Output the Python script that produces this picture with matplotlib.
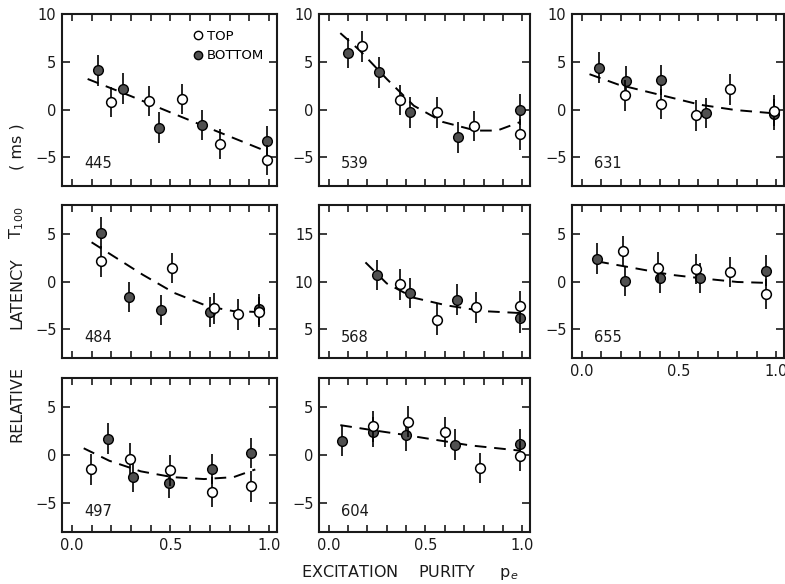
import matplotlib
matplotlib.use('Agg')
import matplotlib.pyplot as plt
from matplotlib.lines import Line2D

# wavelength panels (nm), in reading order
wavelengths = [445, 539, 631, 484, 568, 655, 497, 604]

top_x = {
    445: [0.20, 0.39, 0.56, 0.75, 0.99],
    539: [0.17, 0.37, 0.56, 0.75, 0.99],
    631: [0.22, 0.41, 0.59, 0.76, 0.99],
    484: [0.15, 0.51, 0.72, 0.84, 0.95],
    568: [0.37, 0.56, 0.76, 0.99],
    655: [0.21, 0.39, 0.59, 0.76, 0.95],
    497: [0.095, 0.295, 0.50, 0.71, 0.91],
    604: [0.23, 0.41, 0.60, 0.78, 0.99],
}
top_y = {
    445: [0.8, 0.9, 1.1, -3.6, -5.3],
    539: [6.6, 1.0, -0.3, -1.7, -2.6],
    631: [1.5, 0.6, -0.6, 2.1, -0.1],
    484: [2.1, 1.4, -2.8, -3.45, -3.2],
    568: [9.7, 6.0, 7.3, 7.4],
    655: [3.2, 1.45, 1.3, 1.0, -1.3],
    497: [-1.5, -0.4, -1.6, -3.85, -3.25],
    604: [3.0, 3.45, 2.4, -1.35, -0.1],
}
bottom_x = {
    445: [0.13, 0.26, 0.44, 0.66, 0.99],
    539: [0.10, 0.26, 0.42, 0.67, 0.99],
    631: [0.09, 0.23, 0.41, 0.64, 0.99],
    484: [0.15, 0.29, 0.45, 0.70, 0.95],
    568: [0.25, 0.42, 0.665, 0.99],
    655: [0.08, 0.22, 0.405, 0.61, 0.95],
    497: [0.185, 0.31, 0.49, 0.71, 0.91],
    604: [0.07, 0.23, 0.40, 0.65, 0.99],
}
bottom_y = {
    445: [4.1, 2.2, -1.9, -1.6, -3.3],
    539: [5.9, 3.9, -0.3, -2.9, 0.0],
    631: [4.4, 3.0, 3.1, -0.35, -0.5],
    484: [5.1, -1.6, -3.0, -3.2, -2.9],
    568: [10.7, 8.8, 8.1, 6.2],
    655: [2.4, 0.05, 0.35, 0.35, 1.15],
    497: [1.7, -2.25, -2.9, -1.45, 0.2],
    604: [1.5, 2.4, 2.05, 1.05, 1.1],
}
# dashed fitted curves
fit_x = {
    445: [0.08, 0.30, 0.50, 0.75, 0.99],
    539: [0.06, 0.16, 0.30, 0.44, 0.59, 0.76, 0.87, 0.99],
    631: [0.04, 0.19, 0.41, 0.61, 0.79, 0.99],
    484: [0.10, 0.23, 0.36, 0.52, 0.69, 0.82, 0.96],
    568: [0.19, 0.30, 0.44, 0.61, 0.80, 0.99],
    655: [0.08, 0.27, 0.46, 0.63, 0.80, 0.96],
    497: [0.06, 0.19, 0.35, 0.51, 0.67, 0.82, 0.93],
    604: [0.06, 0.22, 0.39, 0.56, 0.73, 0.99],
}
fit_y = {
    445: [3.2, 1.4, -0.3, -2.4, -4.4],
    539: [8.0, 6.2, 3.2, 0.4, -1.3, -2.2, -2.2, -1.3],
    631: [3.7, 2.6, 1.5, 0.5, -0.05, -0.4],
    484: [4.1, 2.4, 0.7, -1.2, -2.6, -3.1, -3.2],
    568: [12.0, 9.8, 8.3, 7.5, 6.9, 6.7],
    655: [2.1, 1.4, 0.7, 0.3, -0.05, -0.15],
    497: [0.7, -0.6, -1.7, -2.3, -2.5, -2.3, -1.5],
    604: [3.1, 2.6, 2.1, 1.55, 1.0, 0.45],
}
y_limits = {445: (-8, 10), 539: (-8, 10), 631: (-8, 10),
            484: (-8, 8), 568: (2, 18), 655: (-8, 8),
            497: (-8, 8), 604: (-8, 8)}
y_ticks = {445: [-5, 0, 5, 10], 539: [-5, 0, 5, 10], 631: [-5, 0, 5, 10],
           484: [-5, 0, 5], 568: [5, 10, 15], 655: [-5, 0, 5],
           497: [-5, 0, 5], 604: [-5, 0, 5]}
x_labelled = [497, 604, 655]
ERR = 1.6

FILL = '#505050'
INK = '#1a1a1a'

plt.rcParams['font.family'] = ['DejaVu Sans']

W, H = 785, 584
col_left = [62, 319, 572]
col_width = [215, 211, 212]
row_top = [14, 205, 378]
row_bottom = [186, 358, 532]


def draw_panel(fig, wl, row, col):
    left = col_left[col] / W
    bottom = 1 - row_bottom[row] / H
    ax = fig.add_axes([left, bottom, col_width[col] / W,
                       (row_bottom[row] - row_top[row]) / H])
    ax.plot(fit_x[wl], fit_y[wl], color='black', lw=1.4,
            dashes=(6, 4), zorder=2)
    ax.errorbar(bottom_x[wl], bottom_y[wl], yerr=ERR, fmt='o', ms=7,
                mfc=FILL, mec='black', mew=1.0, ecolor='black',
                elinewidth=1.2, capsize=0, zorder=3)
    ax.errorbar(top_x[wl], top_y[wl], yerr=ERR, fmt='o', ms=7,
                mfc='white', mec='black', mew=1.1, ecolor='black',
                elinewidth=1.2, capsize=0, zorder=4)
    ax.set_xlim(-0.05, 1.04)
    ax.set_ylim(*y_limits[wl])
    ax.set_xticks([0.0, 0.5, 1.0])
    ax.set_xticklabels(['0.0', '0.5', '1.0'])
    ax.set_xticks([i / 10 for i in range(11)], minor=True)
    ax.set_yticks(y_ticks[wl])
    ax.tick_params(which='both', direction='in', top=True, right=True,
                   width=1.2, colors=INK, labelsize=10.5, pad=4)
    ax.tick_params(axis='x', which='both', length=5)
    ax.tick_params(axis='y', length=6)
    ax.tick_params(axis='x', labelbottom=wl in x_labelled)
    for s in ax.spines.values():
        s.set_linewidth(1.5)
        s.set_color(INK)
    ax.text(0.105, 0.085, str(wl), transform=ax.transAxes, fontsize=10.5,
            color=INK, va='bottom', ha='left')
    return ax


fig = plt.figure(figsize=(W / 100, H / 100), dpi=100)
for i, wl in enumerate(wavelengths):
    ax = draw_panel(fig, wl, i // 3, i % 3)
    if wl == 445:
        handles = [
            Line2D([], [], ls='none', marker='o', ms=6, mfc='white',
                   mec='black', mew=1.0),
            Line2D([], [], ls='none', marker='o', ms=6, mfc=FILL,
                   mec='black', mew=1.0),
        ]
        ax.legend(handles, ['TOP', 'BOTTOM'], loc='upper right',
                  frameon=False, fontsize=9.5, handlelength=0.8,
                  handletextpad=0.3, labelspacing=0.5,
                  borderaxespad=0.4, bbox_to_anchor=(0.99, 0.97))

# y axis title, pieces placed along the left margin
for word, yc in [('RELATIVE', 404), ('LATENCY', 293),
                 ('T$_{100}$', 223), ('( ms )', 147)]:
    fig.text(17 / W, 1 - yc / H, word, rotation=90, ha='center',
             va='center', fontsize=11.5, color=INK)
fig.text(410 / W, 1 - 572 / H, 'EXCITATION    PURITY     p$_{e}$',
         ha='center', va='center', fontsize=11.5, color=INK)

fig.savefig('out.png', dpi=100)
